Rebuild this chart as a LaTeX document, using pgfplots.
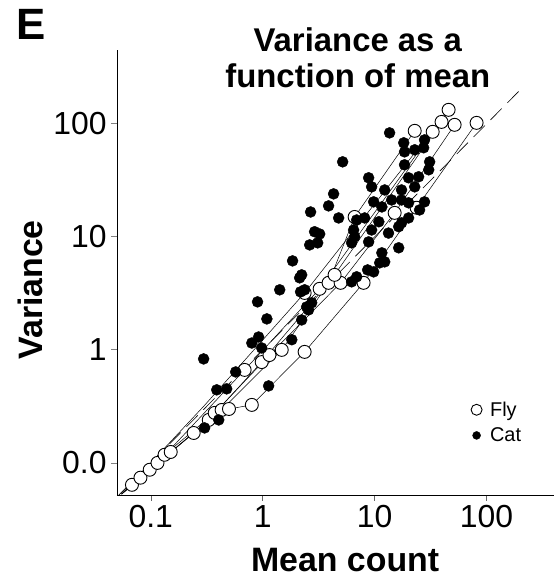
\documentclass[border=0pt]{standalone}
\usepackage{pgfplots}
\pgfplotsset{compat=1.18}
\usepackage{fontspec}
\setmainfont{Liberation Sans}
\begin{document}
\begin{tikzpicture}
\begin{axis}[
  name=ax,
  xmode=log, ymode=log,
  scale only axis, width=437bp, height=445bp,
  xmin=0.05, xmax=400, ymin=0.052, ymax=450,
  axis lines=left, axis line style={-, line width=0.7bp},
  xtick={0.1,1,10,100}, xticklabels={0.1,1,10,100},
  ytick={0.1,1,10,100}, yticklabels={0.0,1,10,100},
  xminorticks=false, yminorticks=false,
  tick align=outside, major tick length=6bp,
  x tick style={line width=0.4bp, black!60},
  y tick style={line width=0.8bp},
  tick label style={font=\fontsize{32}{34}\selectfont},
  yticklabel style={xshift=-1bp},
  xticklabel style={yshift=-1bp},
  clip=false,
  legend style={at={(rel axis cs:0.803,0.163)}, anchor=west, draw=none, fill=none,
    font=\fontsize{20}{24}\selectfont, row sep=6bp},
  legend cell align=left,
]
% identity (Poisson) line
\addplot[black, line width=0.6bp, dash pattern=on 16bp off 8bp, forget plot] coordinates {(0.052,0.052) (200,200)};
% fly lines
\addplot[black, line width=0.5bp, forget plot] coordinates {(0.055,0.053) (0.242,0.184) (0.50,0.30) (0.80,0.326) (2.37,0.96) (7.97,3.92) (23.7,18.1) (81.4,102)};
\addplot[black, line width=0.5bp, forget plot] coordinates {(0.055,0.053) (0.068,0.064) (0.133,0.118) (0.373,0.277) (1.15,0.90) (4.97,3.92) (15.1,16.3) (51.8,98)};
\addplot[black, line width=0.5bp, forget plot] coordinates {(0.055,0.053) (0.081,0.074) (0.151,0.125) (0.43,0.294) (1.48,1.0) (4.39,4.61) (39.6,104)};
\addplot[black, line width=0.5bp, forget plot] coordinates {(0.055,0.053) (0.098,0.087) (0.33,0.24) (0.98,0.78) (3.88,3.92) (6.63,15) (22.8,86.7)};
\addplot[black, line width=0.5bp, forget plot] coordinates {(0.055,0.053) (0.115,0.10) (0.69,0.665) (3.23,3.47) (33,85)};
\addplot[black, line width=0.5bp, forget plot] coordinates {(0.055,0.053) (0.30,0.32) (2.37,3.19) (45.8,133)};
% fly circles
\addplot[only marks, mark=*, mark size=6.5bp, mark options={fill=white, draw=black, line width=0.9bp},
  legend image post style={mark size=5.5bp}] coordinates {
(0.068,0.064) (0.081,0.074) (0.098,0.087) (0.115,0.10) (0.133,0.118) (0.151,0.125)
(0.242,0.184) (0.33,0.24) (0.373,0.277) (0.43,0.294) (0.50,0.30) (0.80,0.326)
(0.69,0.665) (0.98,0.78) (1.15,0.90) (1.48,1.0) (2.37,0.96) (2.37,3.19)
(3.23,3.47) (3.88,3.92) (4.97,3.92) (4.39,4.61) (7.97,3.92) (6.63,15)
(15.1,16.3) (23.7,18.1) (22.8,86.7) (33,85) (39.6,104) (45.8,133) (51.8,98) (81.4,102)};
\addlegendentry{\hspace{6bp}Fly}
% cat dots
\addplot[only marks, mark=*, mark size=5.5bp, mark options={fill=black, draw=black},
  legend image post style={mark size=4bp}] coordinates {
(5.18,46.1) (4.30,24.0) (3.88,18.8) (2.68,16.6) (4.77,14.7) (3.23,10.6) (2.63,8.49) (3.10,8.85)
(1.85,6.13) (2.14,4.34) (1.42,3.40) (2.18,3.26) (0.90,2.66) (1.09,1.88) (2.57,2.26) (0.92,1.30)
(13.6,83.2) (8.84,33.3) (9.40,27.7) (18.2,67.9) (18.5,56.5) (22.8,58.9) (27.4,61.4) (27.9,72.1)
(31.0,46.1) (30.4,39.2) (18.5,43.4) (20.1,33.3) (24.7,34.0) (22.8,27.7) (12.3,26.0) (17.4,26.0)
(9.80,20.4) (14.2,21.2) (17.4,21.2) (11.6,18.4) (20.1,20.0) (27.9,20.4) (6.91,14.1) (8.14,14.7)
(10.9,13.6) (9.40,11.5) (6.49,11.5) (6.63,10.0) (6.23,8.85) (8.84,9.03) (13.3,10.8) (17.4,13.3)
(20.1,14.7) (16.4,12.3) (25.2,17.3) (16.4,8.0) (11.6,7.22) (12.3,6.01) (11.1,5.89) (9.80,4.90)
(8.66,5.1) (6.91,4.43) (6.23,4.0) (2.91,11.1) (2.23,4.61) (2.37,3.40) (2.47,2.40) (2.23,1.84)
(0.80,1.15) (0.98,1.04) (1.82,1.23) (2.74,2.61) (0.297,0.832) (0.389,0.443) (0.477,0.452)
(0.574,0.638) (1.13,0.48) (0.405,0.24) (0.303,0.204)};
\addlegendentry{\hspace{6bp}Cat}
% texts
\node[font=\bfseries\fontsize{33}{36}\selectfont, align=center] at (rel axis cs:0.551,0.983) {Variance as a\\function of mean};
\node[font=\bfseries\fontsize{44}{46}\selectfont] at (rel axis cs:-0.197,1.058) {E};
\node[font=\bfseries\fontsize{34}{36}\selectfont, rotate=90] at (rel axis cs:-0.199,0.461) {Variance};
\node[font=\bfseries\fontsize{34}{36}\selectfont] at (rel axis cs:0.522,-0.146) {Mean count};
\end{axis}
\pgfresetboundingbox
\path[use as bounding box] ([shift={(-117bp,-89bp)}]ax.south west) rectangle ([shift={(0bp,50bp)}]ax.north east);
\end{tikzpicture}
\end{document}
